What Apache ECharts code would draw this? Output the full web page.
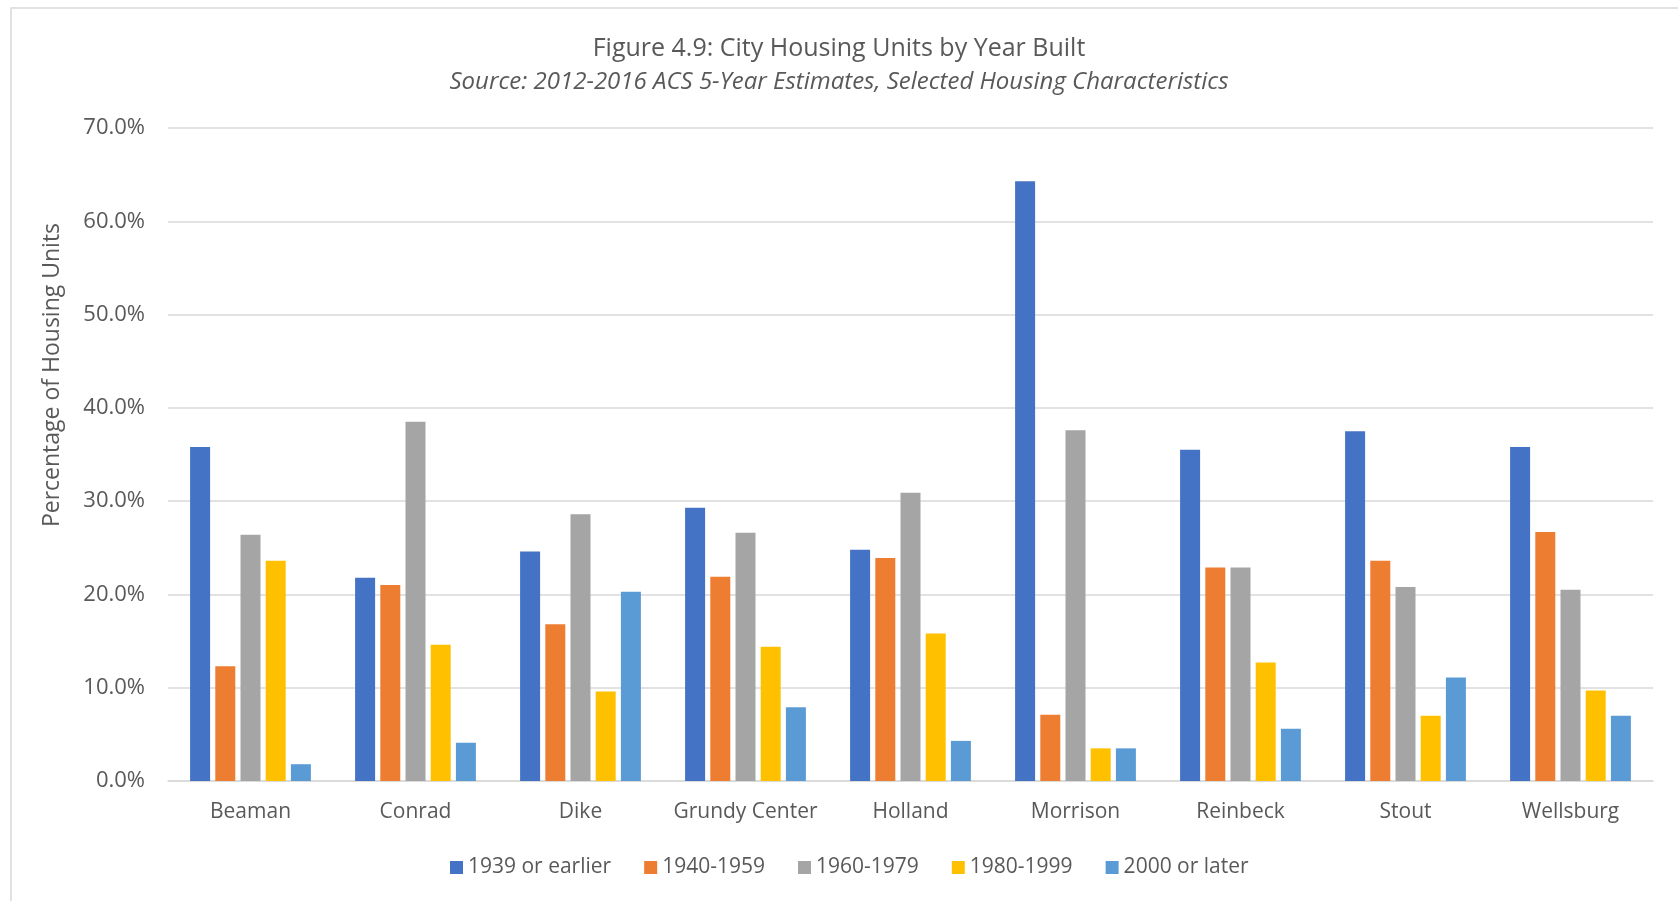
<!DOCTYPE html>
<html>
<head>
<meta charset="utf-8">
<style>
  html, body { margin: 0; padding: 0; background: #fff; }
  #chart { width: 1678px; height: 901px; }
</style>
<script src="https://cdn.jsdelivr.net/npm/echarts@6/dist/echarts.min.js"></script>
</head>
<body>
<div id="chart"></div>
<script>
const cities = ["Beaman", "Conrad", "Dike", "Grundy Center", "Holland", "Morrison", "Reinbeck", "Stout", "Wellsburg"];
const yearGroups = ["1939 or earlier", "1940-1959", "1960-1979", "1980-1999", "2000 or later"];

const built1939OrEarlier = [35.8, 21.8, 24.6, 29.3, 24.8, 64.3, 35.5, 37.5, 35.8];
const built1940to1959 = [12.3, 21.0, 16.8, 21.9, 23.9, 7.1, 22.9, 23.6, 26.7];
const built1960to1979 = [26.4, 38.5, 28.6, 26.6, 30.9, 37.6, 22.9, 20.8, 20.5];
const built1980to1999 = [23.6, 14.6, 9.6, 14.4, 15.8, 3.5, 12.7, 7.0, 9.7];
const built2000OrLater = [1.8, 4.1, 20.3, 7.9, 4.3, 3.5, 5.6, 11.1, 7.0];

const seriesValues = [built1939OrEarlier, built1940to1959, built1960to1979, built1980to1999, built2000OrLater];
const colors = ["#4472C4", "#ED7D31", "#A5A5A5", "#FFC000", "#5B9BD5"];

const textColor = "#595959";
const font = "'Open Sans', sans-serif";

const chart = echarts.init(document.getElementById("chart"));

const option = {
  animation: false,
  color: colors,
  title: [
    {
      text: "Figure 4.9: City Housing Units by Year Built",
      left: "center",
      top: 31,
      textStyle: { color: textColor, fontFamily: font, fontSize: 25, fontWeight: "normal" },
    },
    {
      text: "Source: 2012-2016 ACS 5-Year Estimates, Selected Housing Characteristics",
      left: "center",
      top: 65,
      textStyle: { color: textColor, fontFamily: font, fontSize: 24, fontWeight: "normal", fontStyle: "italic" },
    },
  ],
  graphic: [
    {
      type: "rect",
      shape: { x: 11, y: 8, width: 1700, height: 1000 },
      style: { fill: "none", stroke: "#d9d9d9", lineWidth: 1.5 },
      silent: true,
    },
    {
      type: "text",
      x: 52,
      y: 375,
      rotation: Math.PI / 2,
      style: {
        text: "Percentage of Housing Units",
        fill: textColor,
        font: "23px 'Open Sans', sans-serif",
        align: "center",
        verticalAlign: "middle",
      },
    },
  ],
  legend: {
    left: 445,
    top: 852,
    itemWidth: 13,
    itemHeight: 13,
    itemGap: 33,
    icon: "rect",
    textStyle: { color: textColor, fontFamily: font, fontSize: 21 },
    data: yearGroups,
  },
  grid: { left: 168, right: 25, top: 128, bottom: 120 },
  xAxis: {
    type: "category",
    data: cities,
    axisLine: { lineStyle: { color: "#d9d9d9", width: 1.5 } },
    axisTick: { show: false },
    axisLabel: { color: textColor, fontFamily: font, fontSize: 21, margin: 21, interval: 0 },
  },
  yAxis: {
    type: "value",
    min: 0,
    max: 70,
    interval: 10,
    axisLine: { show: false },
    axisTick: { show: false },
    axisLabel: {
      color: textColor,
      fontFamily: font,
      fontSize: 22,
      margin: 23,
      formatter: (v) => v.toFixed(1) + "%",
    },
    splitLine: { lineStyle: { color: "#d9d9d9", width: 1.5 } },
  },
  series: yearGroups.map((name, i) => ({
    name: name,
    type: "bar",
    data: seriesValues[i],
    barWidth: 20,
    barGap: "26%",
    itemStyle: { color: colors[i] },
  })),
};

chart.setOption(option);
</script>
</body>
</html>
